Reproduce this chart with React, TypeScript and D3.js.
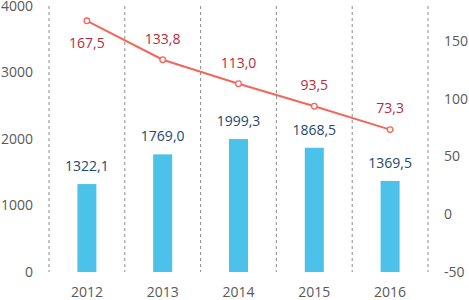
import React from "react";
import * as d3 from "d3";

const years = ["2012", "2013", "2014", "2015", "2016"];
const barValues = [1322.1, 1769.0, 1999.3, 1868.5, 1369.5];
const lineValues = [167.5, 133.8, 113.0, 93.5, 73.3];
const leftTicks = [0, 1000, 2000, 3000, 4000];
const rightTicks = [-50, 0, 50, 100, 150];

const fmt = (v: number) => v.toFixed(1).replace(".", ",");

export default function App() {
  const W = 469, H = 300;
  const top = 6, bottom = 272;
  const x = d3.scaleBand<string>().domain(years).range([49, 428]).paddingInner(0).paddingOuter(0);
  const yL = d3.scaleLinear().domain([0, 4000]).range([bottom, top]);
  const yR = d3.scaleLinear().domain([-50, 180.3]).range([bottom, top]);
  const barW = 19;
  const cx = (d: string) => (x(d) as number) + x.bandwidth() / 2;
  const line = d3.line<number>().x((_, i) => cx(years[i])).y((v) => yR(v));
  const font = "'Open Sans', sans-serif";
  const grids = [...years.map((d) => x(d) as number), 428];

  return (
    <svg width={W} height={H} style={{ position: "absolute", left: 0, top: 0, background: "#fff" }} fontFamily={font}>
      {grids.map((gx, i) => (
        <line key={i} x1={gx} x2={gx} y1={top} y2={bottom} stroke="#8c8c8c" strokeWidth={1} strokeDasharray="3,3" />
      ))}
      {leftTicks.map((t) => (
        <text key={t} x={33} y={yL(t)} dy="0.35em" textAnchor="end" fontSize={14} fill="#595959">{t}</text>
      ))}
      {rightTicks.map((t) => (
        <text key={t} x={444} y={yR(t)} dy="0.35em" textAnchor="start" fontSize={14} fill="#595959">{t}</text>
      ))}
      {years.map((d) => (
        <text key={d} x={cx(d)} y={292} dy="0.35em" textAnchor="middle" fontSize={14} fill="#595959">{d}</text>
      ))}
      {years.map((d, i) => (
        <rect key={d} x={cx(d) - barW / 2} y={yL(barValues[i])} width={barW} height={bottom - yL(barValues[i])} fill="#4cc1ea" />
      ))}
      {years.map((d, i) => (
        <text key={d} x={cx(d)} y={yL(barValues[i]) - 18} dy="0.35em" textAnchor="middle" fontSize={14} fill="#24486e">{fmt(barValues[i])}</text>
      ))}
      <path d={line(lineValues) || ""} fill="none" stroke="#f2675a" strokeWidth={2} />
      {years.map((d, i) => (
        <circle key={d} cx={cx(d)} cy={yR(lineValues[i])} r={2.8} fill="#fff" stroke="#f2675a" strokeWidth={1.3} />
      ))}
      {years.map((d, i) => (
        <text key={d} x={cx(d)} y={yR(lineValues[i]) + (i === 0 ? 22 : -21)} dy="0.35em" textAnchor="middle" fontSize={14} fill="#b82a3f">{fmt(lineValues[i])}</text>
      ))}
    </svg>
  );
}
